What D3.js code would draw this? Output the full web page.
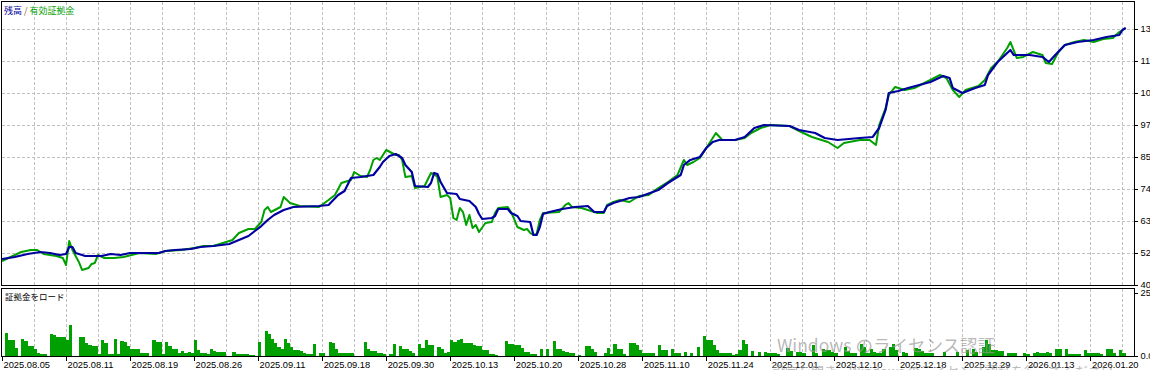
<!DOCTYPE html>
<html>
<head>
<meta charset="utf-8">
<script src="https://cdn.jsdelivr.net/npm/d3@7/dist/d3.min.js"></script>
<style>
  body { margin: 0; background: #fff; }
  svg { display: block; }
</style>
</head>
<body>
<svg id="chart" width="1150" height="370"></svg>
<script>
// x axis = deal number, one margin bar per deal
const dateLabels = ['2025.08.05', '2025.08.11', '2025.08.19', '2025.08.26', '2025.09.11', '2025.09.18',
  '2025.09.30', '2025.10.13', '2025.10.20', '2025.10.28', '2025.11.10', '2025.11.24',
  '2025.12.01', '2025.12.10', '2025.12.18', '2025.12.29', '2026.01.13', '2026.01.20'];
const labelDeals = [0, 20, 40, 60, 80, 100, 120, 140, 160, 180, 200, 220, 240, 260, 280, 300, 320, 340];
const gridDeals = [0, 10, 20, 30, 40, 50, 60, 70, 80, 90, 100, 110, 120, 130, 140, 150, 160, 170,
  180, 190, 200, 210, 220, 230, 240, 250, 260, 270, 280, 290, 300, 310, 320, 330, 340, 350];
const priceTicks = [40900, 52140, 63380, 74620, 85860, 97100, 108340, 119580, 130820];
const loadTicks = [0, 25];

// [deal, value]
const balance = [
  [0, 50030], [4, 50740], [8, 51790], [12, 52490], [15, 52140], [18, 51440], [20, 51790], [21, 54250],
  [22, 54250], [23, 52140], [26, 51090], [31, 51090], [34, 51790], [37, 51440], [40, 52140], [49, 52140],
  [51, 52840], [54, 53190], [59, 53550], [62, 54250], [66, 54600], [71, 55300], [74, 56710], [77, 58110],
  [79, 59870], [81, 61620], [83, 63730], [85, 65490], [88, 67240], [91, 68300], [99, 68650], [102, 69000],
  [105, 72510], [107, 73920], [109, 78480], [112, 78840], [116, 79540], [118, 82350], [119, 84100],
  [121, 86210], [123, 86910], [125, 85510], [126, 83050], [128, 80590], [129, 75670], [133, 75320],
  [134, 76730], [135, 80240], [136, 79890], [137, 77080], [139, 73220], [142, 72860], [143, 71110],
  [146, 70410], [148, 68300], [149, 65840], [150, 64080], [153, 64430], [154, 65140], [155, 67600],
  [158, 67600], [159, 66190], [161, 65140], [162, 63380], [165, 63030], [166, 58460], [167, 58460],
  [168, 61270], [169, 65840], [171, 66540], [175, 67600], [179, 68300], [183, 68650], [185, 66540],
  [188, 66540], [189, 68650], [191, 69700], [193, 70410], [196, 71460], [199, 71810], [205, 74270],
  [208, 76730], [212, 79540], [213, 83050], [215, 84810], [218, 85860], [220, 89020], [222, 91130],
  [224, 91830], [229, 91830], [232, 92890], [235, 96050], [238, 97100], [246, 96750], [249, 95340],
  [254, 94290], [257, 92530], [261, 91830], [268, 92530], [272, 92890], [274, 96050], [276, 102370],
  [277, 108340], [280, 109040], [283, 110100], [290, 112200], [294, 114310], [296, 113610], [297, 110100],
  [300, 108340], [304, 110100], [307, 111150], [308, 114660], [311, 119230], [315, 123440], [316, 121690],
  [321, 121690], [325, 120990], [327, 119230], [329, 121690], [332, 125200], [336, 126250], [341, 126960],
  [345, 128010], [349, 128710], [350, 130470], [351, 131170]
];

const equity = [
  [0, 49330], [2, 50380], [6, 52490], [9, 53190], [11, 53190], [13, 51790], [17, 51090], [19, 50380],
  [20, 47930], [21, 56360], [22, 53190], [24, 48980], [25, 46170], [27, 46870], [28, 48280], [29, 48630],
  [30, 51440], [32, 50380], [35, 50380], [38, 50740], [43, 52140], [48, 51790], [51, 52840], [56, 53190],
  [60, 53900], [63, 54600], [66, 54600], [70, 56000], [72, 56710], [74, 59170], [77, 60570], [79, 60570],
  [81, 63030], [82, 67240], [83, 68300], [84, 66540], [87, 68300], [88, 71810], [90, 69700], [93, 68650],
  [99, 68300], [102, 70760], [104, 72510], [106, 76730], [107, 77080], [109, 77780], [110, 80590],
  [112, 79190], [114, 78840], [115, 81290], [116, 84810], [117, 85510], [118, 84810], [119, 86560],
  [120, 88320], [123, 86560], [124, 86560], [125, 84810], [126, 78840], [128, 79190], [129, 74970],
  [132, 75670], [134, 80240], [135, 79890], [136, 78840], [137, 71810], [139, 72510], [140, 71460],
  [141, 64430], [142, 63730], [143, 67950], [144, 66540], [145, 61980], [146, 65490], [147, 60920],
  [148, 61980], [149, 59520], [151, 62680], [153, 63030], [154, 66190], [155, 67950], [158, 68300],
  [159, 66540], [160, 64080], [161, 61270], [163, 60220], [164, 60570], [165, 59170], [166, 58460],
  [167, 58810], [168, 63730], [169, 66190], [174, 66540], [176, 69050], [177, 69700], [178, 68300],
  [181, 67950], [183, 67240], [186, 66190], [188, 66190], [189, 69000], [191, 70050], [193, 70760],
  [196, 70050], [199, 72160], [202, 72510], [205, 74970], [208, 77080], [211, 79540], [213, 84810],
  [214, 83050], [216, 84100], [218, 85510], [220, 89020], [222, 92530], [223, 94290], [225, 91830],
  [229, 91830], [232, 92530], [234, 94290], [237, 96050], [240, 97100], [246, 96750], [249, 94990],
  [253, 92890], [256, 91830], [258, 91130], [261, 89020], [263, 90780], [268, 91830], [271, 91830],
  [273, 90080], [274, 97100], [276, 103070], [277, 107640], [279, 110450], [282, 109390], [285, 110100],
  [290, 112910], [293, 114660], [295, 113610], [297, 109390], [299, 106940], [301, 109390], [305, 110800],
  [307, 112910], [309, 117120], [311, 119230], [314, 124150], [315, 126250], [317, 120630], [319, 120990],
  [322, 122740], [325, 121690], [326, 118880], [328, 118530], [330, 122740], [332, 125200], [335, 126250],
  [338, 126960], [341, 126250], [344, 127310], [347, 127660], [349, 129770], [350, 130470], [351, 131170]
];

// margin load per deal, %
const marginLoad = [
  0, 9.2, 6.2, 6.2, 3.1, 0, 6.9, 5.9, 4.1, 4.1,
  2.8, 1.3, 0.8, 0.8, 0, 8.7, 8.5, 7.4, 7.4, 7.7,
  6.4, 12.3, 0, 0, 7.4, 7.4, 5.3, 4.5, 3.9, 3.9,
  0.8, 6.2, 5.1, 0.8, 0.8, 6.9, 0.8, 5.9, 5.5, 3.9,
  2.8, 2.6, 2.6, 1.3, 1.3, 1.3, 0, 6.4, 5.4, 5.4,
  0.8, 5.4, 3.9, 2.6, 2.6, 1.3, 1.8, 1.3, 1.5, 1.3,
  6.2, 2.3, 1.3, 1.3, 0.8, 2.6, 1.8, 1.5, 1.5, 1.5,
  0, 0, 1.5, 0.8, 0.8, 0.8, 0.8, 0.5, 0.5, 0,
  5.4, 0, 10.0, 8.7, 6.9, 5.1, 3.6, 2.6, 6.9, 5.1,
  3.6, 2.3, 2.3, 2.0, 1.0, 0.8, 0.8, 4.9, 0, 1.3,
  1.3, 0, 5.5, 5.1, 2.8, 1.3, 1.3, 1.3, 1.3, 1.3,
  0, 0, 0, 5.4, 2.6, 1.8, 1.8, 1.3, 1.3, 0.8,
  0, 0.8, 4.6, 0, 3.8, 2.9, 2.9, 2.1, 1.3, 0,
  4.6, 3.3, 6.5, 4.2, 4.2, 0, 3.6, 2.6, 1.3, 1.7,
  6.2, 5.5, 6.5, 6.8, 5.3, 5.3, 5.3, 4.2, 3.8, 3.8,
  2.3, 2.3, 0.8, 0.8, 0.4, 0, 0, 5.8, 4.6, 4.6,
  4.5, 4.5, 3.3, 1.7, 1.7, 0.8, 0.8, 0, 2.6, 0,
  2.8, 0, 5.8, 2.6, 2.6, 2.1, 1.7, 1.3, 1.3, 0,
  0.4, 0, 3.8, 3.8, 2.6, 1.7, 0, 0, 1.3, 3.3,
  0.8, 4.9, 2.6, 2.6, 0.8, 0, 5.1, 5.1, 4.2, 2.3,
  1.3, 1.0, 1.0, 1.0, 0, 4.2, 2.3, 2.3, 0, 2.6,
  1.3, 1.0, 0, 1.7, 0, 1.3, 0, 3.6, 0, 8.1,
  6.2, 6.2, 4.2, 2.3, 1.3, 1.3, 1.0, 1.0, 0.4, 0.8,
  2.3, 6.2, 4.6, 0, 2.1, 0, 1.7, 0, 1.7, 1.3,
  1.0, 1.0, 0.8, 0, 0, 3.3, 2.1, 0, 1.7, 1.7,
  1.3, 0, 0, 4.2, 1.3, 0, 2.6, 2.3, 2.3, 1.7,
  1.3, 0, 0, 3.6, 2.1, 1.3, 1.3, 0, 4.6, 3.6,
  1.3, 2.6, 1.7, 1.3, 1.3, 2.6, 0, 3.6, 4.9, 2.3,
  0, 1.7, 1.3, 0, 0, 3.3, 2.6, 2.1, 1.3, 1.3,
  1.0, 0, 0, 0, 1.7, 0, 0, 0, 1.7, 0,
  0, 2.3, 0, 2.9, 1.7, 0, 3.6, 6.4, 4.9, 2.3,
  2.3, 2.1, 2.1, 0, 1.3, 1.3, 1.3, 0, 0, 1.3,
  0.8, 0, 1.3, 1.7, 1.0, 1.0, 1.7, 1.0, 0, 2.6,
  2.6, 0, 2.9, 0.8, 0.8, 0.8, 0.8, 0, 2.3, 1.3,
  1.3, 1.3, 1.3, 0.8, 0, 2.6, 2.6, 1.3, 0, 2.3,
  1.3, 0
];

const BLUE = '#0000a0';
const GREEN = '#00a000';
const GRID = '#c0c0c0';
const AXIS_FONT = '"Liberation Sans", Arial, sans-serif';
const CJK_FONT = '"Noto Sans CJK JP", sans-serif';

const left = 1.5;
const right = 1134.5;
const main = { top: 1.5, bottom: 285.5 };
const lower = { top: 288.5, bottom: 356.5 };

const svg = d3.select('#chart');

const x = d3.scaleLinear().domain([0, 353.6]).range([2, 1134]);
const y = d3.scaleLinear().domain([40900, 130820]).range([285, 29]);
const yLoad = d3.scaleLinear().domain([0, 25]).range([356, 293]);

svg.append('defs').append('clipPath').attr('id', 'clip-main')
  .append('rect')
  .attr('x', left).attr('y', main.top)
  .attr('width', right - left).attr('height', main.bottom - main.top);

// grids
function vGrid(panel) {
  svg.append('g')
    .attr('stroke', GRID)
    .attr('stroke-dasharray', '3,2')
    .attr('shape-rendering', 'crispEdges')
    .selectAll('line')
    .data(gridDeals.slice(1))
    .enter()
    .append('line')
    .attr('x1', (d) => Math.round(x(d)) + 0.5)
    .attr('x2', (d) => Math.round(x(d)) + 0.5)
    .attr('y1', panel.top)
    .attr('y2', panel.bottom);
}
vGrid(main);
vGrid(lower);

svg.append('g')
  .attr('stroke', GRID)
  .attr('stroke-dasharray', '3,2')
  .attr('shape-rendering', 'crispEdges')
  .selectAll('line')
  .data(priceTicks.slice(1))
  .enter()
  .append('line')
  .attr('x1', left)
  .attr('x2', right)
  .attr('y1', (d) => Math.round(y(d)) + 0.5)
  .attr('y2', (d) => Math.round(y(d)) + 0.5);

// margin load bars
svg.append('g')
  .attr('fill', GREEN)
  .attr('shape-rendering', 'crispEdges')
  .selectAll('rect')
  .data(marginLoad.map((v, i) => ({ deal: i, v })).filter((d) => d.v > 0))
  .enter()
  .append('rect')
  .attr('x', (d) => Math.round(x(d.deal)))
  .attr('width', (d) => Math.round(x(d.deal + 1)) - Math.round(x(d.deal)))
  .attr('y', (d) => Math.round(yLoad(d.v)))
  .attr('height', (d) => 356 - Math.round(yLoad(d.v)));

// equity then balance on top
const line = d3.line().x((d) => x(d[0])).y((d) => y(d[1]));
const lines = svg.append('g').attr('clip-path', 'url(#clip-main)');
lines.append('path')
  .datum(equity)
  .attr('d', line)
  .attr('fill', 'none')
  .attr('stroke', GREEN)
  .attr('stroke-width', 2)
  .attr('stroke-linejoin', 'round');
lines.append('path')
  .datum(balance)
  .attr('d', line)
  .attr('fill', 'none')
  .attr('stroke', BLUE)
  .attr('stroke-width', 2.2)
  .attr('stroke-linejoin', 'round');

// frames
[main, lower].forEach((p) => {
  svg.append('rect')
    .attr('x', left).attr('y', p.top)
    .attr('width', right - left).attr('height', p.bottom - p.top)
    .attr('fill', 'none')
    .attr('stroke', '#000')
    .attr('shape-rendering', 'crispEdges');
});

// axes
function styleAxis(g) {
  g.select('.domain').remove();
  g.selectAll('line').attr('stroke', '#000').attr('shape-rendering', 'crispEdges');
  g.selectAll('text')
    .attr('fill', '#000')
    .style('font-family', AXIS_FONT)
    .style('font-size', '9.3px');
}

svg.append('g')
  .attr('transform', `translate(${right},0)`)
  .call(d3.axisRight(y).tickValues(priceTicks).tickSize(3).tickPadding(3).tickFormat(d3.format('d')))
  .call(styleAxis);

svg.append('g')
  .attr('transform', `translate(${right},0)`)
  .call(d3.axisRight(yLoad).tickValues(loadTicks).tickSize(3).tickPadding(3).tickFormat(d3.format('.1f')))
  .call(styleAxis);

svg.append('g')
  .attr('transform', `translate(0,${lower.bottom})`)
  .call(d3.axisBottom(x).tickValues(labelDeals).tickSize(4).tickPadding(1).tickFormat((d, i) => dateLabels[i]))
  .call(styleAxis)
  .call((g) => g.selectAll('text').attr('text-anchor', 'start').attr('x', 1));

// titles
const legend = svg.append('text')
  .attr('x', 4)
  .attr('y', 14)
  .style('font-family', CJK_FONT)
  .style('font-size', '9px');
legend.append('tspan').attr('fill', BLUE).text('残高');
legend.append('tspan').attr('fill', '#8a5a2a').text(' / ');
legend.append('tspan').attr('fill', GREEN).text('有効証拠金');

svg.append('text')
  .attr('x', 5)
  .attr('y', 299.5)
  .attr('fill', '#000')
  .style('font-family', CJK_FONT)
  .style('font-size', '8.5px')
  .text('証拠金をロード');

// windows activation overlay seen in the screenshot
svg.append('text')
  .attr('x', 777)
  .attr('y', 352)
  .attr('fill', '#9a9a9a')
  .attr('fill-opacity', 0.7)
  .style('font-family', CJK_FONT)
  .style('font-size', '17.5px')
  .text('Windows のライセンス認証');
svg.append('text')
  .attr('x', 772)
  .attr('y', 376)
  .attr('fill', '#9a9a9a')
  .attr('fill-opacity', 0.7)
  .style('font-family', CJK_FONT)
  .style('font-size', '13px')
  .text('設定を開き、Windows のライセンス認証を行ってください。');
</script>
</body>
</html>
